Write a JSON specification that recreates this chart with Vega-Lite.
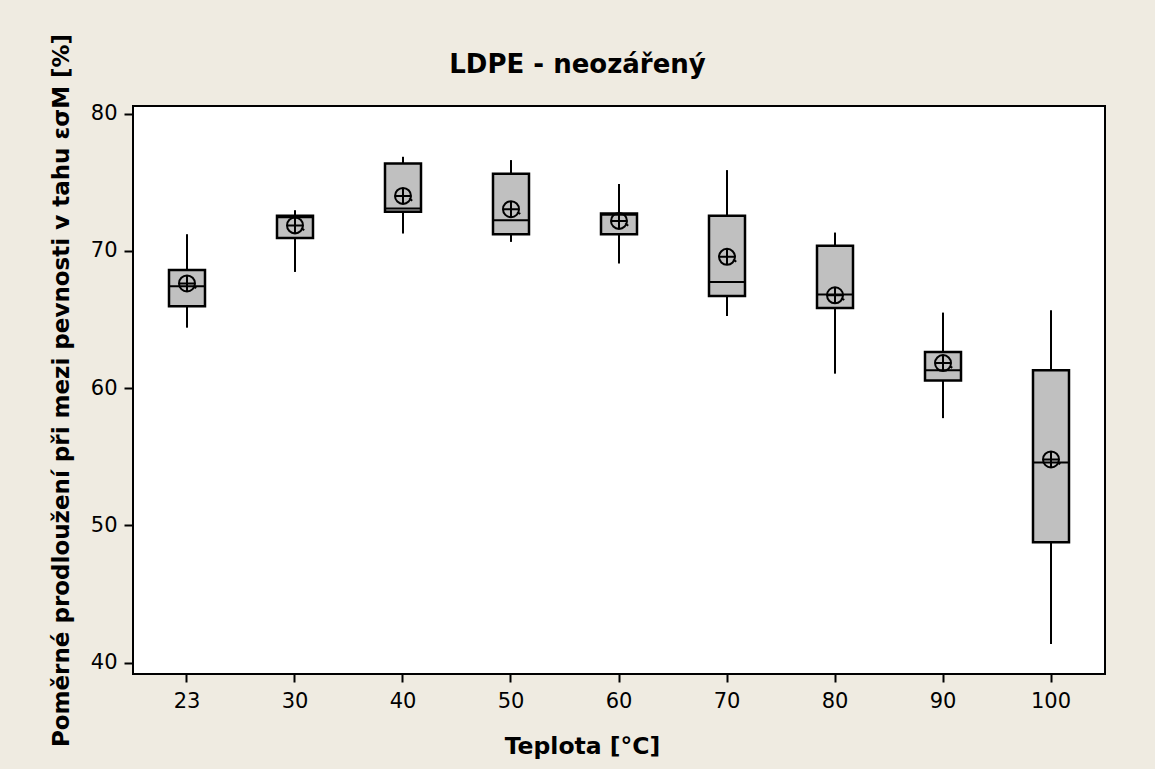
{
  "$schema": "https://vega.github.io/schema/vega-lite/v6.json",
  "width": 972,
  "height": 568,
  "autosize": {"type": "none"},
  "padding": {"left": 133, "top": 106, "right": 50, "bottom": 95},
  "background": "#efebe1",
  "config": {
    "view": {"fill": "white", "stroke": "black", "strokeWidth": 2},
    "font": "DejaVu Sans"
  },
  "title": {
    "text": "LDPE - neozářený",
    "font": "DejaVu Sans",
    "fontSize": 26,
    "fontWeight": "bold",
    "color": "black",
    "anchor": "middle",
    "frame": "group",
    "dx": -41.5,
    "baseline": "alphabetic",
    "offset": -66
  },
  "data": {
    "values": [
      {"t": "23", "lo": 64.4, "q1": 65.96, "med": 67.42, "q3": 68.61, "hi": 71.21, "mean": 67.62},
      {"t": "30", "lo": 68.46, "q1": 70.94, "med": 72.45, "q3": 72.55, "hi": 72.96, "mean": 71.85},
      {"t": "40", "lo": 71.26, "q1": 72.84, "med": 73.08, "q3": 76.37, "hi": 76.85, "mean": 74.0},
      {"t": "50", "lo": 70.65, "q1": 71.21, "med": 72.23, "q3": 75.61, "hi": 76.61, "mean": 73.03},
      {"t": "60", "lo": 69.07, "q1": 71.21, "med": 72.62, "q3": 72.72, "hi": 74.86, "mean": 72.18},
      {"t": "70", "lo": 65.25, "q1": 66.71, "med": 67.73, "q3": 72.55, "hi": 75.88, "mean": 69.56},
      {"t": "80", "lo": 61.05, "q1": 65.84, "med": 66.81, "q3": 70.36, "hi": 71.33, "mean": 66.76},
      {"t": "90", "lo": 57.81, "q1": 60.56, "med": 61.29, "q3": 62.63, "hi": 65.5, "mean": 61.82},
      {"t": "100", "lo": 41.36, "q1": 48.77, "med": 54.58, "q3": 61.29, "hi": 65.67, "mean": 54.8}
    ]
  },
  "encoding": {
    "x": {
      "field": "t",
      "type": "nominal",
      "sort": ["23", "30", "40", "50", "60", "70", "80", "90", "100"],
      "scale": {"type": "band", "paddingInner": 0.6667, "paddingOuter": 0.3333},
      "axis": {
        "title": "Teplota [°C]",
        "titleFont": "DejaVu Sans",
        "titleFontSize": 23.5,
        "titleFontWeight": "bold",
        "titleColor": "black",
        "titleX": 449,
        "titleY": 79,
        "titleAlign": "center",
        "titleBaseline": "alphabetic",
        "labelAngle": 0,
        "labelFont": "DejaVu Sans",
        "labelFontSize": 21,
        "labelColor": "black",
        "labelPadding": 8,
        "domain": false,
        "ticks": true,
        "tickColor": "black",
        "tickSize": 8,
        "tickWidth": 2,
        "grid": false
      }
    }
  },
  "layer": [
    {
      "mark": {"type": "rule", "color": "black", "strokeWidth": 2},
      "encoding": {
        "y": {
          "field": "lo",
          "type": "quantitative",
          "scale": {"domain": [39.17, 80.55], "nice": false, "zero": false},
          "axis": {
            "title": "Poměrné prodloužení při mezi pevnosti v tahu εσM [%]",
            "titleFont": "DejaVu Sans",
            "titleFontSize": 23,
            "titleFontWeight": "bold",
            "titleColor": "black",
            "titleX": -65,
            "titleBaseline": "alphabetic",
            "values": [40, 50, 60, 70, 80],
            "labelFont": "DejaVu Sans",
            "labelFontSize": 21,
            "labelColor": "black",
            "labelPadding": 7,
            "domain": false,
            "tickColor": "black",
            "tickSize": 9,
            "tickWidth": 2,
            "grid": false
          }
        },
        "y2": {"field": "hi"}
      }
    },
    {
      "mark": {"type": "bar", "fill": "#c0c0c0", "stroke": "black", "strokeWidth": 2.5, "opacity": 1},
      "encoding": {
        "y": {"field": "q1", "type": "quantitative"},
        "y2": {"field": "q3"}
      }
    },
    {
      "mark": {"type": "tick", "color": "black", "opacity": 1, "thickness": 2, "size": 36, "orient": "horizontal"},
      "encoding": {
        "y": {"field": "med", "type": "quantitative"}
      }
    },
    {
      "mark": {
        "type": "point",
        "shape": "M-1,0A1,1 0 1,1 1,0A1,1 0 1,1 -1,0M-1,0L1,0M0,-1L0,1M0.78,0.3L1.15,0.6",
        "size": 256,
        "filled": false,
        "stroke": "black",
        "strokeWidth": 2,
        "opacity": 1
      },
      "encoding": {
        "y": {"field": "mean", "type": "quantitative"}
      }
    }
  ]
}
